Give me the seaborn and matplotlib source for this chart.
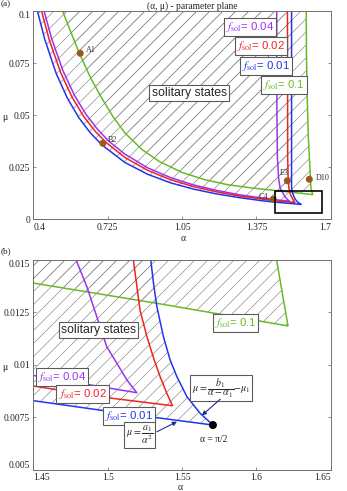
import numpy as np
import pandas as pd
import matplotlib
matplotlib.use("Agg")
import matplotlib.pyplot as plt
import seaborn as sns
from matplotlib.patches import Rectangle

# curves: left branch from top down to the corner, then up the right branch
blue_alpha = [0.418, 0.45, 0.5, 0.55, 0.6, 0.65, 0.7, 0.8, 0.9, 1.0, 1.1, 1.2, 1.3, 1.4, 1.45, 1.5, 1.5708,
              1.5622, 1.5533, 1.5466, 1.542, 1.5375, 1.5331, 1.531, 1.529, 1.529, 1.529]
blue_mu = [0.1, 0.0864, 0.070, 0.0579, 0.0486, 0.0414, 0.0357, 0.0273, 0.0216, 0.0175, 0.0145, 0.0122, 0.0104,
           0.0089, 0.0083, 0.0078, 0.00714,
           0.0077, 0.00849, 0.00944, 0.01024, 0.01135, 0.01278, 0.0138, 0.015, 0.03, 0.1]

red_alpha = [0.436, 0.47, 0.52, 0.57, 0.62, 0.67, 0.72, 0.8, 0.9, 1.0, 1.1, 1.2, 1.3, 1.4, 1.45, 1.5, 1.5436,
             1.5398, 1.5353, 1.5313, 1.5264, 1.5218, 1.5173, 1.514, 1.512, 1.511]
red_mu = [0.1, 0.086, 0.0703, 0.0585, 0.0494, 0.0423, 0.0367, 0.0297, 0.0235, 0.019, 0.0157, 0.0132, 0.0112,
          0.0097, 0.0090, 0.00844, 0.00806,
          0.00865, 0.00944, 0.01024, 0.01135, 0.0126, 0.015, 0.02, 0.03, 0.1]

purple_alpha = [0.447, 0.48, 0.53, 0.58, 0.63, 0.68, 0.73, 0.8, 0.9, 1.0, 1.1, 1.2, 1.3, 1.4, 1.45, 1.5196,
                1.5129, 1.5062, 1.4994, 1.4927, 1.486, 1.4788, 1.472, 1.467, 1.465, 1.464]
purple_mu = [0.1, 0.0868, 0.0712, 0.0595, 0.0504, 0.0433, 0.0375, 0.0313, 0.0247, 0.020, 0.0165, 0.0139, 0.0118,
             0.0102, 0.0095, 0.00868,
             0.00929, 0.01008, 0.01087, 0.0123, 0.01373, 0.015, 0.02, 0.03, 0.05, 0.1]

green_alpha = [0.528, 0.56, 0.60, 0.65, 0.70, 0.75, 0.80, 0.875, 0.95, 1.05, 1.15, 1.25, 1.35, 1.45, 1.5362, 1.6213,
               1.6136, 1.609, 1.602, 1.597, 1.594, 1.593]
green_mu = [0.100, 0.091, 0.080, 0.068, 0.058, 0.049, 0.0415, 0.0335, 0.0278, 0.0225, 0.0190, 0.0166, 0.0151, 0.0139,
            0.0129, 0.01186,
            0.015, 0.025, 0.04, 0.06, 0.08, 0.1]

# sample points in panel (a)
pt_names = ["A1", "B2", "C4", "E3", "D10"]
pt_alpha = [0.605, 0.704, 1.449, 1.5105, 1.6066]
pt_mu = [0.0797, 0.0365, 0.0096, 0.0185, 0.0192]

# zoom window marked in (a)
zoom_box = [1.457, 0.0032, 1.663, 0.0137]

top_xticks = [0.4, 0.725, 1.05, 1.375, 1.7]
top_xlabels = ["0.4", "0.725", "1.05", "1.375", "1.7"]
top_yticks = [0, 0.025, 0.05, 0.075, 0.1]
top_ylabels = ["0", "0.025", "0.05", "0.075", "0.1"]
bot_xticks = [1.45, 1.5, 1.55, 1.6, 1.65]
bot_xlabels = ["1.45", "1.5", "1.55", "1.6", "1.65"]
bot_yticks = [0.005, 0.0075, 0.01, 0.0125, 0.015]
bot_ylabels = ["0.005", "0.0075", "0.01", "0.0125", "0.015"]

c_blue = "#2233ee"
c_red = "#ee2222"
c_purple = "#9933ee"
c_green = "#66bb22"
c_brown = "#9a5a1c"

sns.set_style("ticks")
plt.rcParams["font.family"] = ["Liberation Serif", "DejaVu Serif"]
plt.rcParams["mathtext.fontset"] = "stix"
plt.rcParams["hatch.linewidth"] = 0.6

curves = [
    ("f_sol = 0.1", green_alpha, green_mu, c_green),
    ("f_sol = 0.04", purple_alpha, purple_mu, c_purple),
    ("f_sol = 0.02", red_alpha, red_mu, c_red),
    ("f_sol = 0.01", blue_alpha, blue_mu, c_blue),
]

dpi = 78
fig = plt.figure(figsize=(347 / dpi, 491 / dpi), dpi=dpi)
ax1 = fig.add_axes([0.096, 0.5534, 0.857, 0.4242])
ax2 = fig.add_axes([0.096, 0.0428, 0.857, 0.4277])

for ax in (ax1, ax2):
    # hatched solitary region = union of the blue and green regions
    for a, m in ((blue_alpha, blue_mu), (green_alpha, green_mu)):
        ax.fill(a, m, facecolor="none", edgecolor="#8a8a8a", hatch="//", linewidth=0)
    for name, a, m, col in curves:
        df = pd.DataFrame({"alpha": a, "mu": m})
        sns.lineplot(data=df, x="alpha", y="mu", sort=False, estimator=None,
                     color=col, lw=1.4, ax=ax)
    ax.set_xlabel("")
    ax.set_ylabel("")
    for sp in ax.spines.values():
        sp.set_color("#707070")
        sp.set_linewidth(0.9)
    ax.tick_params(axis="both", direction="in", length=3, width=0.7, labelsize=8.8,
                   colors="#707070", labelcolor="#222222", right=True, pad=3)

box = dict(boxstyle="square,pad=0.18", fc="white", ec="#5a5a5a", lw=1.0)
fsans = ["Liberation Sans", "DejaVu Sans"]

# ---- panel (a)
ax1.set_xlim(0.4, 1.7)
ax1.set_ylim(0, 0.1)
ax1.set_xticks(top_xticks, top_xlabels)
ax1.set_yticks(top_yticks, top_ylabels)

pts = pd.DataFrame({"alpha": pt_alpha, "mu": pt_mu, "name": pt_names})
sns.scatterplot(data=pts, x="alpha", y="mu", color=c_brown, s=42, edgecolor="none", ax=ax1, zorder=5)
ax1.set_xlabel("")
ax1.set_ylabel("")
offsets = {"A1": (5, 3), "B2": (5, 3), "C4": (-9, 2), "E3": (-3, 7), "D10": (6, 1)}
for n, a, m in zip(pt_names, pt_alpha, pt_mu):
    ax1.annotate(n, (a, m), xytext=offsets[n], textcoords="offset points",
                 fontsize=7.5, color="#333333", ha="left" if offsets[n][0] > 0 else "center", va="center")

ax1.add_patch(Rectangle((zoom_box[0], zoom_box[1]), zoom_box[2] - zoom_box[0], zoom_box[3] - zoom_box[1],
                        fill=False, ec="black", lw=1.5, zorder=6, clip_on=False))

ax1.text(1.081, 0.0607, "solitary states", fontsize=11.3, family=fsans, ha="center", va="center", bbox=box, zorder=7)
ax1.text(1.348, 0.0925, r"$f_{\mathrm{sol}}$= 0.04", fontsize=10.5, family=fsans, color=c_purple,
         ha="center", va="center", bbox=box, zorder=7)
ax1.text(1.397, 0.0834, r"$f_{\mathrm{sol}}$= 0.02", fontsize=10.5, family=fsans, color=c_red,
         ha="center", va="center", bbox=box, zorder=7)
ax1.text(1.419, 0.0736, r"$f_{\mathrm{sol}}$= 0.01", fontsize=10.5, family=fsans, color=c_blue,
         ha="center", va="center", bbox=box, zorder=7)
ax1.text(1.495, 0.0643, r"$f_{\mathrm{sol}}$= 0.1", fontsize=10.5, family=fsans, color=c_green,
         ha="center", va="center", bbox=box, zorder=7)

# ---- panel (b)
ax2.set_xlim(1.45, 1.65)
ax2.set_ylim(0.005, 0.015)
ax2.set_xticks(bot_xticks, bot_xlabels)
ax2.set_yticks(bot_yticks, bot_ylabels)

sns.scatterplot(x=[np.pi / 2], y=[0.00714], color="black", s=55, edgecolor="none", ax=ax2, zorder=6)
ax2.set_xlabel("")
ax2.set_ylabel("")
ax2.text(1.5712, 0.00643, "α = π/2", fontsize=8.8, ha="center", va="center", color="#222222")

ax2.text(1.4938, 0.01167, "solitary states", fontsize=11.3, family=fsans, ha="center", va="center", bbox=box, zorder=7)
ax2.text(1.586, 0.01202, r"$f_{\mathrm{sol}}$= 0.1", fontsize=10.5, family=fsans, color=c_green,
         ha="center", va="center", bbox=box, zorder=7)
ax2.text(1.4692, 0.00943, r"$f_{\mathrm{sol}}$= 0.04", fontsize=10.5, family=fsans, color=c_purple,
         ha="center", va="center", bbox=box, zorder=7)
ax2.text(1.4831, 0.0086, r"$f_{\mathrm{sol}}$= 0.02", fontsize=10.5, family=fsans, color=c_red,
         ha="center", va="center", bbox=box, zorder=7)
ax2.text(1.5143, 0.00758, r"$f_{\mathrm{sol}}$= 0.01", fontsize=10.5, family=fsans, color=c_blue,
         ha="center", va="center", bbox=box, zorder=7)

fbox = dict(boxstyle="square,pad=0.15", fc="white", ec="#5a5a5a", lw=1.0)
ax2.text(1.5764, 0.00889, r"$\mu = \dfrac{b_1}{\alpha - \alpha_1}\!-\!\mu_1$", fontsize=9.2,
         ha="center", va="center", bbox=fbox, zorder=7)
ax2.text(1.5213, 0.00667, r"$\mu = \dfrac{a_1}{\alpha^2}$", fontsize=9.2,
         ha="center", va="center", bbox=fbox, zorder=7)
arrow = dict(arrowstyle="-|>", color="#1c2a8c", lw=1.0, mutation_scale=8, shrinkA=0, shrinkB=0)
ax2.annotate("", xy=(1.5634, 0.0076), xytext=(1.5757, 0.00837), arrowprops=arrow, zorder=8)
ax2.annotate("", xy=(1.5466, 0.0073), xytext=(1.5331, 0.00682), arrowprops=arrow, zorder=8)

# edge tick labels pulled inside as in the original
for ax in (ax1, ax2):
    xl = ax.get_xticklabels()
    xl[0].set_ha("left")
    xl[-1].set_ha("right")
    yl = ax.get_yticklabels()
    yl[-1].set_va("top")
ax2.get_yticklabels()[0].set_va("bottom")

# panel labels, axis labels and title
fig.text(0.003, 0.9908, "(a)", fontsize=8.5, ha="left", va="center")
fig.text(0.003, 0.489, "(b)", fontsize=8.5, ha="left", va="center")
fig.text(0.555, 0.988, "(α, μ) - parameter plane", fontsize=8.8, ha="center", va="center")
fig.text(0.0144, 0.7617, "μ", fontsize=9, ha="center", va="center")
fig.text(0.0144, 0.2525, "μ", fontsize=9, ha="center", va="center")
fig.text(0.5265, 0.5147, "α", fontsize=9, ha="center", va="center")
fig.text(0.5187, 0.007, "α", fontsize=9, ha="center", va="center")

fig.savefig("out.png", dpi=dpi)
